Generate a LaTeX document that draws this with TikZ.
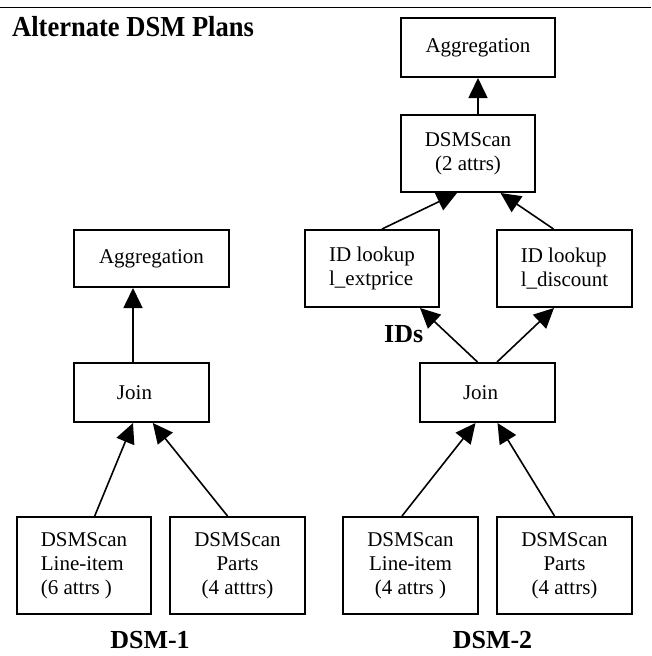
\documentclass[tikz,border=0pt]{standalone}
\usepackage{graphicx}
\usepackage{fontspec}
\setmainfont{Liberation Serif}
\usetikzlibrary{arrows.meta}
\tikzset{
  box/.style={draw, line width=2pt, inner sep=0pt, font=\fontsize{21}{24}\selectfont},
  arr/.style={line width=1.6pt, -{Triangle[length=20pt,width=19pt]}},
  lbl/.style={font=\fontsize{26}{28}\selectfont\bfseries, inner sep=0pt}
}
\begin{document}
\begin{tikzpicture}[x=1pt,y=-1pt]
\useasboundingbox (0,0) rectangle (651,656);
\coordinate (tl) at (0,7.5);
\coordinate (tr) at (651,7.5);
\draw[line width=1.5pt] (tl) -- (tr);
\node[anchor=base west, inner sep=0pt, font=\fontsize{29}{32}\selectfont\bfseries] (title) at (12,36) {\scalebox{0.915}[1]{Alternate DSM Plans}};

% DSM-2
\node[box, minimum width=154pt, minimum height=59pt] (agg2) at (478,47.5) {Aggregation};
\node[box, align=center, minimum width=134pt, minimum height=77pt] (scan2) at (468,153.5) {DSMScan\\(2 attrs)};
\node[box, align=left, minimum width=134pt, minimum height=77pt] (idl1) at (372,268.5) {ID lookup\\l\_extprice};
\node[box, align=left, minimum width=135pt, minimum height=77pt] (idl2) at (564.5,268.5) {ID lookup\\l\_discount};
\node[box, minimum width=135pt, minimum height=59pt] (join2) at (487.5,392.5) {Join\hspace*{14pt}};
\node[box, align=center, minimum width=135pt, minimum height=97pt] (li2) at (410.5,565.5) {DSMScan\\Line-item\\(4 attrs )};
\node[box, align=center, minimum width=135pt, minimum height=97pt] (pa2) at (564.5,565.5) {DSMScan\\Parts\\(4 attrs)};

% DSM-1
\node[box, minimum width=155pt, minimum height=57pt] (agg1) at (151.5,258.5) {Aggregation};
\node[box, minimum width=135pt, minimum height=59pt] (join1) at (141.5,392.5) {Join\hspace*{14pt}};
\node[box, align=left, minimum width=134pt, minimum height=97pt] (li1) at (84,565.5) {DSMScan\\Line-item\\(6 attrs )};
\node[box, align=center, minimum width=135pt, minimum height=97pt] (pa1) at (237.5,565.5) {DSMScan\\Parts\\(4 atttrs)};

% labels
\node[lbl, anchor=base west] (ids) at (384,342) {IDs};
\node[lbl, anchor=base] (dsm1) at (150,648) {DSM-1};
\node[lbl, anchor=base] (dsm2) at (492.5,648) {DSM-2};

% connectors DSM-2
\draw[arr] (scan2.north -| agg2.south) -- (agg2.south);
\draw[arr] ([xshift=10pt]idl1.north) -- ([xshift=-11pt]scan2.south);
\draw[arr] ([xshift=-11pt]idl2.north) -- ([xshift=32.5pt]scan2.south);
\draw[arr] ([xshift=-10pt]join2.north) -- ([xshift=48pt]idl1.south);
\draw[arr] ([xshift=9.5pt]join2.north) -- ([xshift=-10.5pt]idl2.south);
\draw[arr] ([xshift=-8.5pt]li2.north) -- ([xshift=-12pt]join2.south);
\draw[arr] ([xshift=-10pt]pa2.north) -- ([xshift=10pt]join2.south);

% connectors DSM-1
\draw[arr] ([xshift=10.7pt]li1.north) -- ([xshift=-8.5pt]join1.south);
\draw[arr] ([xshift=-10pt]pa1.north) -- ([xshift=11.3pt]join1.south);
\draw[arr] ([xshift=-8.5pt]join1.north) -- ([xshift=-18.5pt]agg1.south);
\end{tikzpicture}
\end{document}
